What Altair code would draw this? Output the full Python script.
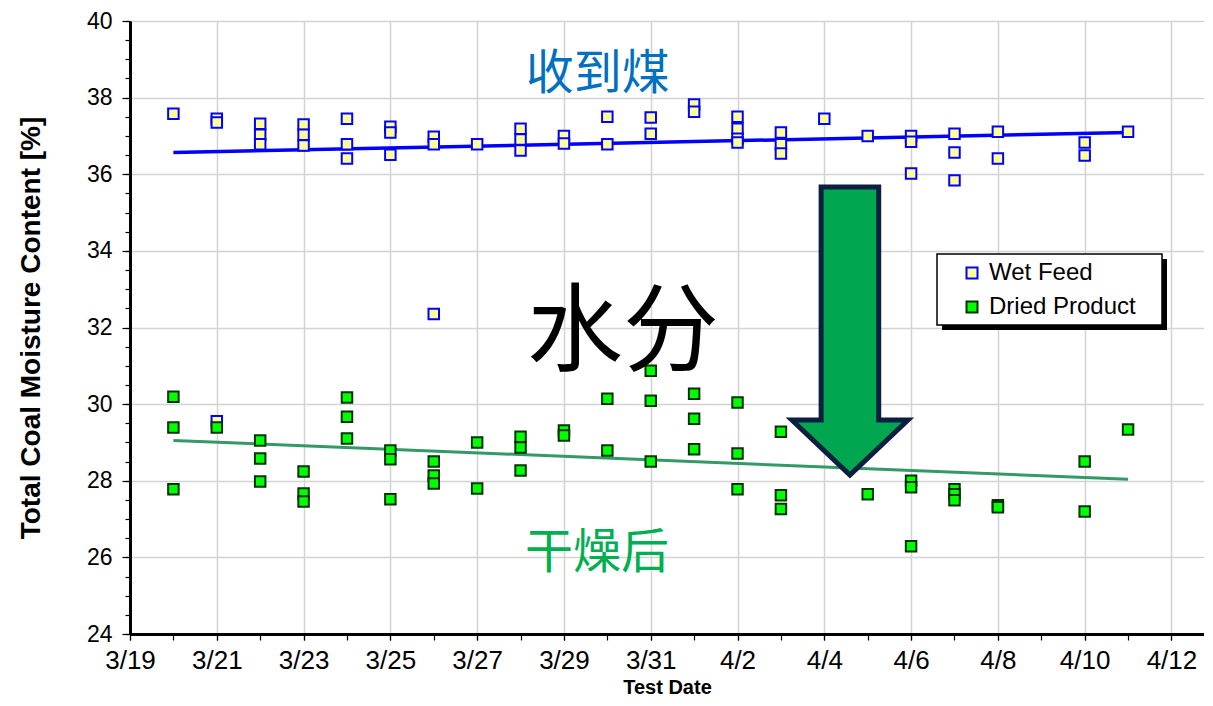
import altair as alt
import pandas as pd

YEAR = 2009

# ---- data ----
wet_dates = ["3/20",
             "3/21", "3/21", "3/21",
             "3/22", "3/22", "3/22",
             "3/23", "3/23", "3/23",
             "3/24", "3/24", "3/24",
             "3/25", "3/25", "3/25",
             "3/26", "3/26", "3/26",
             "3/27",
             "3/28", "3/28", "3/28",
             "3/29", "3/29",
             "3/30", "3/30",
             "3/31", "3/31",
             "4/1", "4/1",
             "4/2", "4/2", "4/2", "4/2",
             "4/3", "4/3", "4/3",
             "4/4",
             "4/5",
             "4/6", "4/6", "4/6",
             "4/7", "4/7", "4/7",
             "4/8", "4/8",
             "4/10", "4/10",
             "4/11"]
wet_values = [37.58,
              37.45, 37.35, 29.55,
              37.32, 37.03, 36.78,
              37.30, 37.03, 36.75,
              37.45, 36.78, 36.41,
              37.24, 37.09, 36.51,
              36.98, 36.78, 32.35,
              36.78,
              37.19, 36.91, 36.62,
              37.00, 36.80,
              37.50, 36.78,
              37.48, 37.06,
              37.82, 37.63,
              37.50, 37.19, 36.93, 36.83,
              37.09, 36.78, 36.54,
              37.45,
              37.00,
              37.00, 36.85, 36.02,
              37.06, 36.57, 35.84,
              37.11, 36.41,
              36.83, 36.49,
              37.11]

dried_dates = ["3/20", "3/20", "3/20",
               "3/21",
               "3/22", "3/22", "3/22",
               "3/23", "3/23", "3/23",
               "3/24", "3/24", "3/24",
               "3/25", "3/25", "3/25",
               "3/26", "3/26", "3/26",
               "3/27", "3/27",
               "3/28", "3/28", "3/28",
               "3/29", "3/29",
               "3/30", "3/30",
               "3/31", "3/31", "3/31",
               "4/1", "4/1", "4/1",
               "4/2", "4/2", "4/2",
               "4/3", "4/3", "4/3",
               "4/5",
               "4/6", "4/6", "4/6",
               "4/7", "4/7", "4/7",
               "4/8", "4/8",
               "4/10", "4/10",
               "4/11"]
dried_values = [30.19, 29.39, 27.78,
                29.39,
                29.05, 28.58, 27.98,
                28.24, 27.67, 27.46,
                30.17, 29.67, 29.10,
                28.79, 28.56, 27.52,
                28.50, 28.14, 27.93,
                29.00, 27.80,
                29.15, 28.87, 28.27,
                29.31, 29.18,
                30.14, 28.79,
                30.87, 30.09, 28.50,
                30.27, 29.62, 28.82,
                30.04, 28.71, 27.78,
                29.28, 27.62, 27.26,
                27.65,
                28.00, 27.83, 26.29,
                27.78, 27.65, 27.49,
                27.36, 27.31,
                28.50, 27.20,
                29.34]

trend_dates = ["3/20", "4/11"]
wet_trend = [36.57, 37.09]
dried_trend = [29.05, 28.04]

series_names = ["Wet Feed", "Dried Product"]
series_fill = ["#FFFF99", "#00FF00"]
series_stroke = ["#0000FF", "#003300"]

x_tick_labels = ["3/19", "3/21", "3/23", "3/25", "3/27", "3/29", "3/31",
                 "4/2", "4/4", "4/6", "4/8", "4/10", "4/12"]
y_ticks = [24, 26, 28, 30, 32, 34, 36, 38, 40]

# annotation anchors (date, value)
note_texts = ["收到煤", "水分", "干燥后"]
note_dates = ["3/29 18:43", "3/30 08:38", "3/29 18:15"]
note_values = [38.60, 31.83, 26.10]
arrow_date = "4/4 14:10"
arrow_value = 31.91


def iso(md):
    parts = md.split(" ")
    m, d = parts[0].split("/")
    t = parts[1] if len(parts) > 1 else "00:00"
    return f"{YEAR}-{int(m):02d}-{int(d):02d}T{t}:00"


def dt(md, hours=0):
    m, d = md.split("/")
    return alt.DateTime(year=YEAR, month=int(m), date=int(d), hours=hours)


points = pd.DataFrame(
    {"date": [iso(d) for d in wet_dates] + [iso(d) for d in dried_dates],
     "value": wet_values + dried_values,
     "series": ["Wet Feed"] * len(wet_values) + ["Dried Product"] * len(dried_values)}
)
wet_tr = pd.DataFrame({"date": [iso(d) for d in trend_dates], "value": wet_trend})
dry_tr = pd.DataFrame({"date": [iso(d) for d in trend_dates], "value": dried_trend})
notes = pd.DataFrame({"date": [iso(d) for d in note_dates], "value": note_values,
                      "text": note_texts})
arrow_df = pd.DataFrame({"date": [iso(arrow_date)], "value": [arrow_value]})

# day list for minor ticks
all_days = [f"3/{d}" for d in range(19, 32)] + [f"4/{d}" for d in range(1, 13)]

xscale = alt.Scale(domain=[dt("3/19"), dt("4/12", 18)], nice=False)
yscale = alt.Scale(domain=[24, 40], nice=False, zero=False)

FONT = "Liberation Sans"
NARROW = "Liberation Sans Narrow, Arial Narrow, Liberation Sans"

x_major = alt.Axis(
    orient="bottom", values=[dt(d) for d in x_tick_labels], format="%-m/%-d",
    grid=True, gridColor="#D3D3D3", gridWidth=1.5,
    domain=True, domainColor="black", domainWidth=3,
    ticks=True, tickColor="black", tickSize=6, tickWidth=1.2,
    labelFont=NARROW, labelFontSize=26, labelColor="black", labelPadding=7,
    labelFlush=False, labelOverlap=False,
    title="Test Date", titleFont=FONT, titleFontSize=20, titleFontWeight="bold",
    titleColor="black", titlePadding=4,
)
x_minor = alt.Axis(
    orient="bottom", values=[dt(d) for d in all_days], labels=False, grid=False,
    domain=False, ticks=True, tickColor="black", tickSize=6, tickWidth=1.2,
    title=None,
)
y_major = alt.Axis(
    orient="left", values=y_ticks, grid=True, gridColor="#D3D3D3", gridWidth=1.5,
    domain=True, domainColor="black", domainWidth=3,
    ticks=True, tickColor="black", tickSize=8, tickWidth=1.2,
    labelFont=FONT, labelFontSize=23, labelColor="black", labelPadding=10,
    labelFlush=False, labelOverlap=False,
    title="Total Coal Moisture Content [%]", titleFont=FONT, titleFontSize=28,
    titleFontWeight="bold", titleColor="black", titlePadding=41,
)
y_minor = alt.Axis(
    orient="left", values=[24 + 0.5 * i for i in range(33)], labels=False,
    grid=False, domain=False, ticks=True, tickColor="black", tickSize=5,
    tickWidth=1.2, title=None,
)

legend = alt.Legend(
    title=None, orient="none", legendX=807, legendY=232,
    symbolType="square", symbolSize=121, symbolStrokeWidth=2,
    labelFont=FONT, labelFontSize=24, labelColor="black",
    padding=8, rowPadding=10, symbolOffset=15, labelOffset=5,
)


def X(axis=None):
    return alt.X("date:T", scale=xscale, axis=axis)


def Y(axis=None):
    return alt.Y("value:Q", scale=yscale, axis=axis)


# minor ticks carried by an invisible layer
minor_layer = alt.Chart(wet_tr).mark_point(opacity=0).encode(x=X(x_minor), y=Y(y_minor))

wet_line = alt.Chart(wet_tr).mark_line(color="#0000FF", strokeWidth=3.5).encode(
    x=X(x_major), y=Y(y_major)
)
dry_line = alt.Chart(dry_tr).mark_line(color="#339966", strokeWidth=3).encode(x=X(), y=Y())

pts = alt.Chart(points).mark_point(
    shape="square", filled=True, size=110, strokeWidth=2, opacity=1,
    fillOpacity=1, strokeOpacity=1,
).encode(
    x=X(), y=Y(),
    fill=alt.Fill("series:N", scale=alt.Scale(domain=series_names, range=series_fill),
                  legend=legend),
    stroke=alt.Stroke("series:N", scale=alt.Scale(domain=series_names, range=series_stroke),
                      legend=legend),
)

# legend frame with drop shadow (pixel box behind the native legend)
shadow = alt.Chart(arrow_df).mark_rect(color="black").encode(
    x=alt.value(812), x2=alt.value(1037), y=alt.value(238), y2=alt.value(309)
)
frame = alt.Chart(arrow_df).mark_rect(fill="white", stroke="black", strokeWidth=1.5).encode(
    x=alt.value(807), x2=alt.value(1032), y=alt.value(233), y2=alt.value(304)
)

note_colors = ["#0070C0", "black", "#00B050"]
note_sizes = [48, 96, 48]
text_layers = []
for i in range(3):
    text_layers.append(
        alt.Chart(notes.iloc[[i]]).mark_text(
            font="Noto Sans CJK SC", fontSize=note_sizes[i], color=note_colors[i],
            align="center", baseline="middle",
        ).encode(x=X(), y=Y(), text="text:N")
    )

ARROW = "M -0.2 -1 L 0.2 -1 L 0.2 0.618 L 0.403 0.618 L 0 1 L -0.403 0.618 L -0.2 0.618 Z"
arrow = alt.Chart(arrow_df).mark_point(
    shape=ARROW, filled=True, fill="#00A650", stroke="#0B1F40", strokeWidth=5,
    size=82944, opacity=1, fillOpacity=1, strokeOpacity=1, strokeJoin="miter",
).encode(x=X(), y=Y())

chart = alt.layer(
    minor_layer, wet_line, dry_line, pts, shadow, frame, *text_layers, arrow
).resolve_axis(
    x="independent", y="independent"
).properties(
    width=1074, height=613,
    padding={"left": 122, "top": 13, "right": 0, "bottom": 64},
    autosize=alt.AutoSizeParams(type="none"),
    background="white",
).configure_view(stroke=None)

chart.save("out.html", embed_options={"renderer": "svg", "actions": False})
